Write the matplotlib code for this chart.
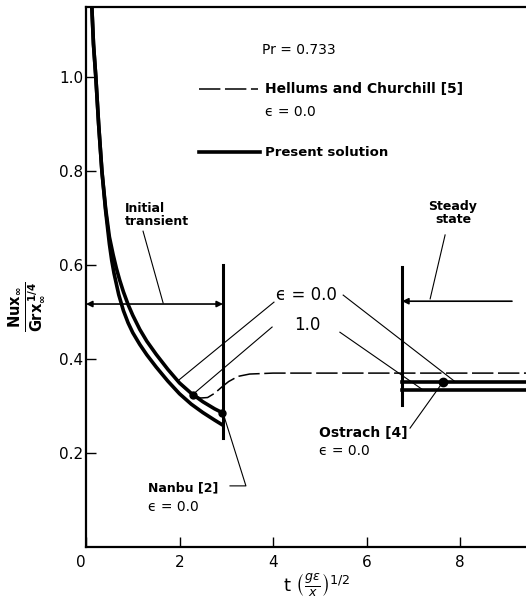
import matplotlib
matplotlib.use("Agg")
import matplotlib.pyplot as plt

plt.rcParams["font.family"] = ["DejaVu Sans"]
plt.rcParams["mathtext.fontset"] = "dejavusans"

# Present solution, initial transient, eps = 0.0 (upper) and eps = 1.0 (lower)
t_eps0 = [0.12, 0.16, 0.21, 0.27, 0.34, 0.42, 0.5, 0.58, 0.65, 0.72, 0.8, 0.9, 1.0, 1.15,
          1.3, 1.5, 1.75, 2.0, 2.25, 2.5, 2.75, 2.93]
nu_eps0 = [1.16, 1.07, 1.0, 0.9, 0.8, 0.72, 0.66, 0.622, 0.593, 0.568, 0.543, 0.516, 0.493, 0.463,
           0.438, 0.41, 0.378, 0.349, 0.327, 0.309, 0.294, 0.285]
t_eps1 = [0.12, 0.16, 0.21, 0.27, 0.34, 0.42, 0.5, 0.55, 0.6, 0.7, 0.8, 0.9, 1.0, 1.15,
          1.3, 1.5, 1.75, 2.0, 2.25, 2.5, 2.75, 2.93]
nu_eps1 = [1.16, 1.07, 1.0, 0.9, 0.8, 0.715, 0.645, 0.61, 0.582, 0.537, 0.503, 0.477, 0.456, 0.431,
           0.409, 0.383, 0.353, 0.326, 0.304, 0.286, 0.27, 0.259]

# Hellums and Churchill [5], eps = 0.0
t_hc = [1.9, 2.1, 2.3, 2.45, 2.6, 2.75, 2.9, 3.05, 3.25, 3.5, 4.0, 9.5]
nu_hc = [0.36, 0.339, 0.323, 0.317, 0.318, 0.327, 0.34, 0.352, 0.363, 0.368, 0.37, 0.37]

# Steady state values (present solution)
t_steady = [6.76, 9.5]
nu_steady_eps0 = [0.352, 0.352]
nu_steady_eps1 = [0.333, 0.333]

# Nanbu [2] and Ostrach [4] points
t_nanbu = [2.29, 2.9]
nu_nanbu = [0.324, 0.286]
t_ostrach = [7.64]
nu_ostrach = [0.352]

# Region boundaries
t_transient_end = 2.93
t_steady_start = 6.76

fig = plt.figure(figsize=(5.26, 6.06), dpi=100)
ax = fig.add_axes([0.1635, 0.0974, 0.8365, 0.891])
ax.set_xlim(0, 9.41)
ax.set_ylim(0, 1.149)

lw_thick = 2.6
ax.plot(t_eps0, nu_eps0, color="black", lw=lw_thick, solid_capstyle="butt", solid_joinstyle="round")
ax.plot(t_eps1, nu_eps1, color="black", lw=lw_thick, solid_capstyle="butt", solid_joinstyle="round")
ax.plot(t_hc, nu_hc, color="black", lw=1.1, linestyle=(0, (14, 3)))
ax.plot(t_steady, nu_steady_eps0, color="black", lw=lw_thick)
ax.plot(t_steady, nu_steady_eps1, color="black", lw=lw_thick)
ax.plot(t_nanbu, nu_nanbu, "o", color="black", ms=5)
ax.plot(t_ostrach, nu_ostrach, "o", color="black", ms=6)

# region walls
ax.plot([t_transient_end, t_transient_end], [0.232, 0.60], color="black", lw=2.2)
ax.plot([t_steady_start, t_steady_start], [0.302, 0.596], color="black", lw=2.2)

# arrows for the regions
ax.annotate("", xy=(0.0, 0.517), xytext=(t_transient_end, 0.517),
            arrowprops=dict(arrowstyle="<|-|>", color="black", lw=1.2, mutation_scale=9,
                            shrinkA=0, shrinkB=0))
ax.annotate("", xy=(t_steady_start, 0.523), xytext=(9.11, 0.523),
            arrowprops=dict(arrowstyle="-|>", color="black", lw=1.2, mutation_scale=9,
                            shrinkA=0, shrinkB=0))

# leader lines
leaders = [
    [(1.22, 0.672), (1.65, 0.519)],
    [(7.68, 0.664), (7.36, 0.528)],
    [(4.02, 0.521), (1.97, 0.354)],
    [(3.98, 0.468), (2.29, 0.325)],
    [(5.50, 0.536), (7.89, 0.352)],
    [(5.43, 0.457), (7.21, 0.334)],
    [(3.08, 0.13), (3.42, 0.13), (2.95, 0.279)],
    [(6.93, 0.253), (7.64, 0.352)],
]
for pts in leaders:
    ax.plot([p[0] for p in pts], [p[1] for p in pts], color="black", lw=0.8)

# legend drawn by hand
ax.text(3.76, 1.057, "Pr = 0.733", fontsize=10, va="center", ha="left")
ax.plot([2.42, 3.68], [0.974, 0.974], color="black", lw=1.1, linestyle=(0, (14, 3)))
ax.text(3.83, 0.974, "Hellums and Churchill [5]", fontsize=10, fontweight="bold", va="center")
ax.text(3.83, 0.926, "ϵ = 0.0", fontsize=10, va="center")
ax.plot([2.42, 3.72], [0.840, 0.840], color="black", lw=lw_thick)
ax.text(3.83, 0.840, "Present solution", fontsize=9.5, fontweight="bold", va="center")

# labels on the plot
ax.text(0.83, 0.707, "Initial\ntransient", fontsize=9, fontweight="bold",
        va="center", ha="left", linespacing=1.0)
ax.text(7.85, 0.71, "Steady\nstate", fontsize=9, fontweight="bold",
        va="center", ha="center", linespacing=1.0)
ax.text(4.06, 0.536, "ϵ = 0.0", fontsize=12, va="center", ha="left")
ax.text(4.73, 0.472, "1.0", fontsize=12, va="center", ha="center")
ax.text(1.33, 0.126, "Nanbu [2]", fontsize=9, fontweight="bold", va="center")
ax.text(1.33, 0.085, "ϵ = 0.0", fontsize=10, va="center")
ax.text(4.98, 0.243, "Ostrach [4]", fontsize=10, fontweight="bold", va="center")
ax.text(4.98, 0.204, "ϵ = 0.0", fontsize=10, va="center")

# axes styling
ax.spines["right"].set_visible(False)
for s in ["left", "top", "bottom"]:
    ax.spines[s].set_linewidth(1.6)
ax.set_xticks([0, 2, 4, 6, 8])
ax.set_xticklabels(["0", "2", "4", "6", "8"])
ax.set_yticks([0.2, 0.4, 0.6, 0.8, 1.0])
ax.set_yticklabels(["0.2", "0.4", "0.6", "0.8", "1.0"])
ax.tick_params(direction="in", length=7, width=1, labelsize=11)
ax.tick_params(axis="x", pad=6)
ax.tick_params(axis="y", pad=2)
ax.get_xticklabels()[0].set_ha("right")

ax.text(-0.134, 0.446, r"$\mathbf{\frac{Nux_{\infty}}{Grx_{\infty}^{\,1/4}}}$", fontsize=15,
        rotation=90, ha="center", va="center", transform=ax.transAxes)
ax.text(0.523, -0.07, r"$\mathrm{t}\ \left(\frac{g\epsilon}{x}\right)^{1/2}$", fontsize=13,
        ha="center", va="center", transform=ax.transAxes)

fig.savefig("out.png", dpi=100)
